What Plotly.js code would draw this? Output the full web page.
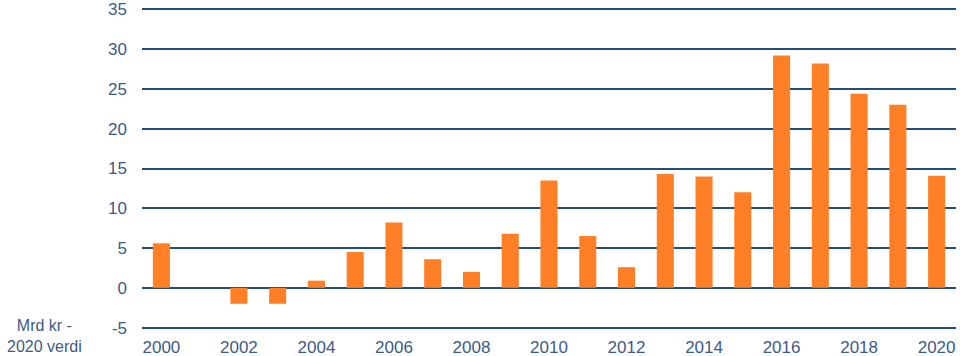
<!DOCTYPE html>
<html>
<head>
<meta charset="utf-8">
<script src="https://cdn.plot.ly/plotly-3.0.1.min.js"></script>
<style>html,body{margin:0;padding:0;background:#fff;}#chart{width:960px;height:356px;}</style>
</head>
<body>
<div id="chart"></div>
<script>
const years = [2000,2001,2002,2003,2004,2005,2006,2007,2008,2009,2010,2011,2012,2013,2014,2015,2016,2017,2018,2019,2020];
const values = [5.6,0,-2.0,-2.0,0.9,4.5,8.2,3.6,2.0,6.8,13.5,6.5,2.6,14.3,14.0,12.0,29.2,28.2,24.4,23.0,14.1];
const yTicks = [-5,0,5,10,15,20,25,30,35];
const xTicks = [2000,2002,2004,2006,2008,2010,2012,2014,2016,2018,2020];
const unitLabel = 'Mrd kr -<br>2020 verdi';

const textColor = '#3B5B85';
const gridColor = '#1F4E79';

Plotly.newPlot('chart', [{
  type: 'bar',
  x: years,
  y: values,
  marker: {color: '#FF7F27', line: {width: 0}},
  hoverinfo: 'x+y'
}], {
  width: 960, height: 356,
  margin: {l: 142, r: 4, t: 7, b: 26, pad: 0},
  paper_bgcolor: '#fff', plot_bgcolor: '#fff',
  bargap: 0.56,
  showlegend: false,
  font: {family: 'Liberation Sans, Arial, sans-serif', size: 17, color: textColor},
  xaxis: {
    range: [1999.5, 2020.5],
    tickvals: xTicks,
    ticktext: xTicks.map(String),
    showgrid: false, zeroline: false, showline: false,
    ticks: '', ticklabelstandoff: 5,
    tickfont: {size: 17, color: textColor},
    fixedrange: true
  },
  yaxis: {
    range: [-5.3, 35.3],
    tickvals: yTicks,
    ticktext: yTicks.map(String),
    showgrid: true, gridcolor: gridColor, gridwidth: 2,
    zeroline: true, zerolinecolor: gridColor, zerolinewidth: 2,
    showline: false, ticks: '', ticklabelstandoff: 14,
    tickfont: {size: 17, color: textColor},
    fixedrange: true
  },
  annotations: [{
    text: unitLabel,
    xref: 'paper', yref: 'paper',
    x: -0.12, y: -0.005,
    xanchor: 'center', yanchor: 'middle',
    yshift: -4,
    showarrow: false,
    align: 'center',
    font: {size: 16, color: textColor, family: 'Liberation Sans, Arial, sans-serif'}
  }]
}, {displayModeBar: false, staticPlot: true});
</script>
</body>
</html>
